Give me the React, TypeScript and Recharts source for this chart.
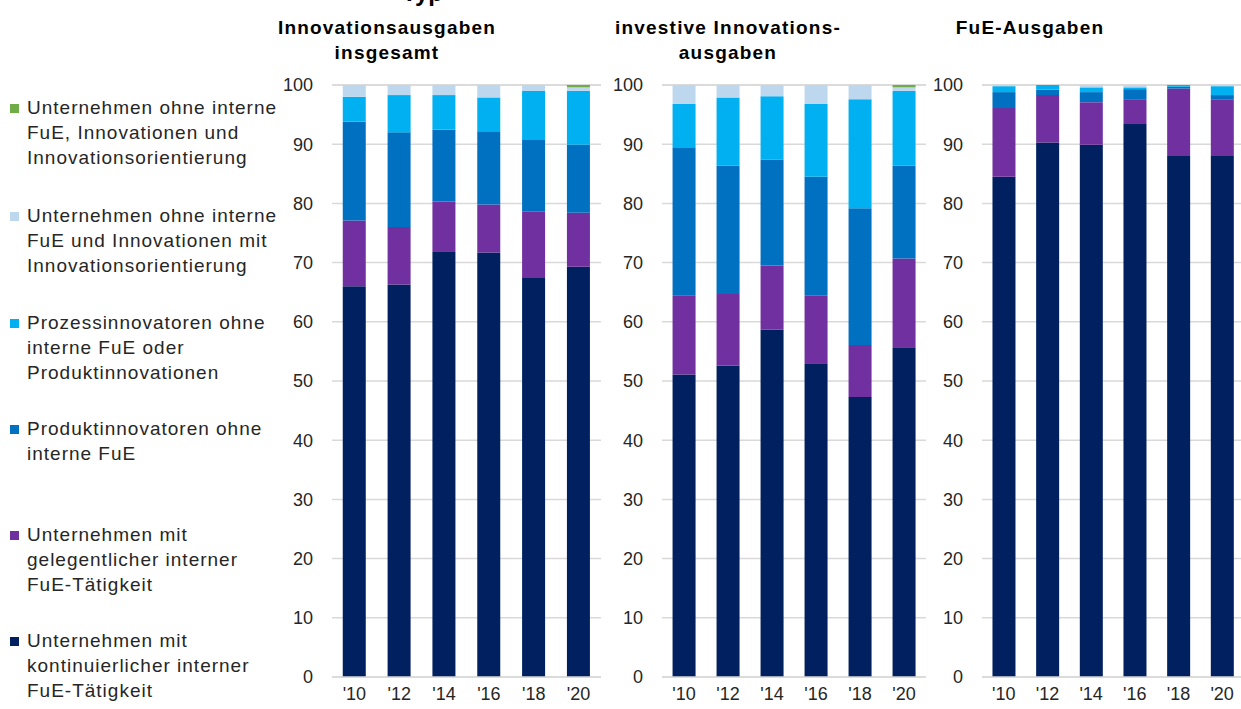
import { Bar, BarChart, CartesianGrid, XAxis, YAxis } from "recharts";

const years = ["'10", "'12", "'14", "'16", "'18", "'20"];
const yTicks = [0, 10, 20, 30, 40, 50, 60, 70, 80, 90, 100];

// Innovationsausgaben insgesamt
const gesamtKont = [66.0, 66.3, 71.9, 71.7, 67.4, 69.3];
const gesamtGel = [11.1, 9.7, 8.4, 8.1, 11.2, 9.1];
const gesamtProd = [16.7, 16.0, 12.2, 12.4, 12.1, 11.5];
const gesamtProz = [4.2, 6.3, 5.8, 5.7, 8.3, 9.1];
const gesamtOrient = [2.0, 1.7, 1.7, 2.1, 1.0, 0.6];
const gesamtOhne = [0, 0, 0, 0, 0, 0.4];

// investive Innovationsausgaben
const investKont = [51.1, 52.6, 58.7, 53.0, 47.3, 55.7];
const investGel = [13.4, 12.1, 10.8, 11.4, 8.8, 15.0];
const investProd = [25.0, 21.7, 17.9, 20.1, 23.1, 15.7];
const investProz = [7.3, 11.5, 10.7, 12.3, 18.4, 12.6];
const investOrient = [3.2, 2.1, 1.9, 3.2, 2.4, 0.6];
const investOhne = [0, 0, 0, 0, 0, 0.4];

// FuE-Ausgaben
const fueKont = [84.5, 90.3, 89.9, 93.4, 88.0, 88.0];
const fueGel = [11.6, 8.0, 7.2, 4.2, 11.4, 9.6];
const fueProd = [2.7, 0.9, 1.7, 1.7, 0.3, 0.7];
const fueProz = [1.0, 0.8, 0.8, 0.3, 0.3, 1.5];
const fueOrient = [0.2, 0, 0.4, 0.4, 0, 0.2];
const fueOhne = [0, 0, 0, 0, 0, 0];

// bottom to top
const seriesKeys = ["kont", "gel", "prod", "proz", "orient", "ohne"];
const seriesNames = [
  "Unternehmen mit\nkontinuierlicher interner\nFuE-Tätigkeit",
  "Unternehmen mit\ngelegentlicher interner\nFuE-Tätigkeit",
  "Produktinnovatoren ohne\ninterne FuE",
  "Prozessinnovatoren ohne\ninterne FuE oder\nProduktinnovationen",
  "Unternehmen ohne interne\nFuE und Innovationen mit\nInnovationsorientierung",
  "Unternehmen ohne interne\nFuE, Innovationen und\nInnovationsorientierung",
];
const seriesColors = ["#002060", "#7030a0", "#0070c0", "#00b0f0", "#bdd7ee", "#70ad47"];

function buildRows(cols: number[][]) {
  return years.map((year, i) => {
    const row: Record<string, string | number> = { year };
    seriesKeys.forEach((key, s) => {
      row[key] = cols[s][i];
    });
    return row;
  });
}

const panels = [
  {
    title: "Innovationsausgaben\ninsgesamt",
    titleCenter: 387,
    left: 270,
    width: 340,
    right: 9,
    rows: buildRows([gesamtKont, gesamtGel, gesamtProd, gesamtProz, gesamtOrient, gesamtOhne]),
  },
  {
    title: "investive Innovations-\nausgaben",
    titleCenter: 728,
    left: 600,
    width: 330,
    right: 4,
    rows: buildRows([investKont, investGel, investProd, investProz, investOrient, investOhne]),
  },
  {
    title: "FuE-Ausgaben",
    titleCenter: 1030,
    left: 920,
    width: 324,
    right: 0,
    rows: buildRows([fueKont, fueGel, fueProd, fueProz, fueOrient, fueOhne]),
  },
];

const font = "'Liberation Sans', Arial, sans-serif";
const legendTops = [95, 203, 310, 416, 522, 628];

export default function App() {
  const legendOrder = [...seriesKeys.keys()].reverse();
  return (
    <div
      style={{
        position: "absolute",
        left: 0,
        top: 0,
        width: 1241,
        height: 709,
        overflow: "hidden",
        background: "#fff",
        fontFamily: font,
      }}
    >
      <svg
        width={1241}
        height={20}
        style={{ position: "absolute", left: 0, top: 0 }}
      >
        <text x={402} y={1} fontSize={24} fontWeight="bold" fill="#000" fontFamily={font}>
          Typ
        </text>
      </svg>

      {legendOrder.map((s, i) => (
        <div
          key={seriesKeys[s]}
          style={{ position: "absolute", left: 0, top: legendTops[i], width: 300 }}
        >
          <span
            style={{
              position: "absolute",
              left: 10,
              top: 9,
              width: 9,
              height: 9,
              background: seriesColors[s],
            }}
          />
          <div
            style={{
              marginLeft: 27,
              fontSize: 19,
              letterSpacing: 1,
              lineHeight: "25px",
              color: "#262626",
              whiteSpace: "pre-line",
            }}
          >
            {seriesNames[s]}
          </div>
        </div>
      ))}

      {panels.map((p) => (
        <div key={p.title}>
          <div
            style={{
              position: "absolute",
              left: p.titleCenter - 150,
              top: 15,
              width: 300,
              textAlign: "center",
              fontWeight: "bold",
              fontSize: 19,
              letterSpacing: 1.2,
              lineHeight: "25px",
              color: "#000",
              whiteSpace: "pre-line",
            }}
          >
            {p.title}
          </div>
          <div style={{ position: "absolute", left: p.left, top: 0 }}>
            <BarChart
              width={p.width}
              height={709}
              data={p.rows}
              margin={{ top: 85, right: p.right, bottom: 0, left: 0 }}
              barCategoryGap="24%"
            >
              <CartesianGrid vertical={false} stroke="#d9d9d9" strokeWidth={1.5} />
              <XAxis
                dataKey="year"
                height={32}
                axisLine={{ stroke: "#d9d9d9", strokeWidth: 1.5 }}
                tickLine={false}
                tickMargin={4}
                tick={{ fill: "#262626", fontSize: 18, fontFamily: font }}
              />
              <YAxis
                width={62}
                domain={[0, 100]}
                ticks={yTicks}
                axisLine={false}
                tickLine={false}
                tickMargin={13}
                tick={{ fill: "#262626", fontSize: 18, fontFamily: font }}
              />
              {seriesKeys.map((key, s) => (
                <Bar
                  key={key}
                  dataKey={key}
                  stackId="a"
                  fill={seriesColors[s]}
                  isAnimationActive={false}
                />
              ))}
            </BarChart>
          </div>
        </div>
      ))}
    </div>
  );
}
